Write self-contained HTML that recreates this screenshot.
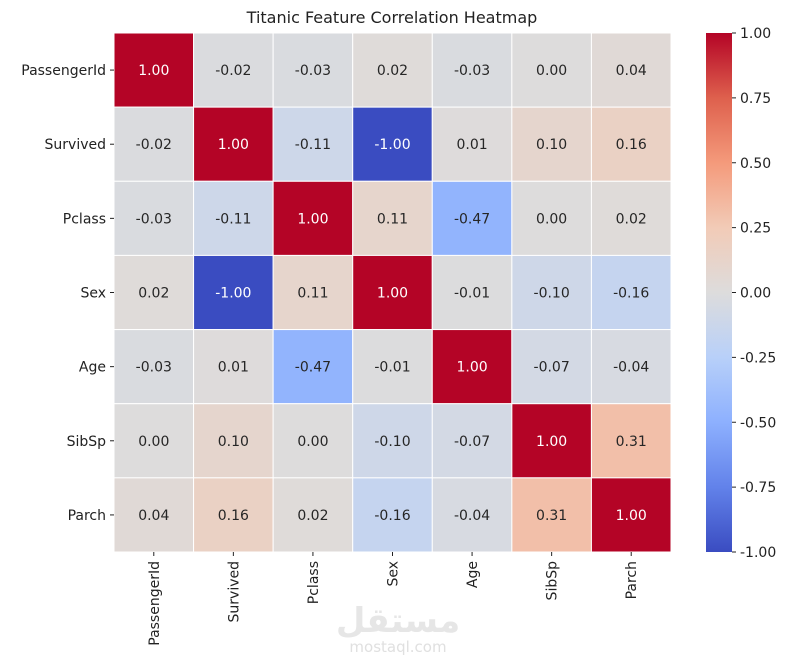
<!DOCTYPE html>
<html><head><meta charset="utf-8"><style>
body{margin:0;background:#fff;}
svg{font-family:"DejaVu Sans","Liberation Sans",sans-serif;}
</style></head><body>
<svg id="c" width="799" height="665"></svg>
<script>
const labels=["PassengerId","Survived","Pclass","Sex","Age","SibSp","Parch"];
const values=[
[1.00,-0.02,-0.03,0.02,-0.03,0.00,0.04],
[-0.02,1.00,-0.11,-1.00,0.01,0.10,0.16],
[-0.03,-0.11,1.00,0.11,-0.47,0.00,0.02],
[0.02,-1.00,0.11,1.00,-0.01,-0.10,-0.16],
[-0.03,0.01,-0.47,-0.01,1.00,-0.07,-0.04],
[0.00,0.10,0.00,-0.10,-0.07,1.00,0.31],
[0.04,0.16,0.02,-0.16,-0.04,0.31,1.00]];
const cbTicks=[1.00,0.75,0.50,0.25,0.00,-0.25,-0.50,-0.75,-1.00];
const NS="http://www.w3.org/2000/svg";
const svg=document.getElementById('c');
const L=114,T=33,R=671,B=552;
const n=labels.length,cw=(R-L)/n,ch=(B-T)/n;
const xS=i=>L+i*cw, yS=i=>T+i*ch;
const stops=[[0,[58,76,193]],[0.125,[98,130,234]],[0.25,[141,176,254]],[0.375,[184,208,249]],[0.5,[221,220,220]],[0.625,[242,203,183]],[0.75,[244,154,123]],[0.875,[222,96,77]],[1,[180,4,38]]];
function cmap(v){let t=(v+1)/2;t=Math.max(0,Math.min(1,t));
for(let i=1;i<stops.length;i++){if(t<=stops[i][0]){const a=stops[i-1],b=stops[i],f=(t-a[0])/(b[0]-a[0]);
return 'rgb('+a[1].map((c,k)=>Math.round(c+(b[1][k]-c)*f)).join(',')+')';}}return 'rgb(180,4,38)';}
function el(tag,attrs,txt){const e=document.createElementNS(NS,tag);for(const k in attrs)e.setAttribute(k,attrs[k]);if(txt!=null)e.textContent=txt;svg.appendChild(e);return e;}
const t=el('text',{x:392,y:23,'text-anchor':'middle','font-size':16,fill:'#222'},'Titanic Feature Correlation Heatmap');


for(let r=0;r<n;r++)for(let c=0;c<n;c++){
const v=values[r][c];
const rc=el('rect',{x:xS(c),y:yS(r),width:cw,height:ch,fill:cmap(v),stroke:'#fff','stroke-width':1});


const tx=el('text',{x:xS(c)+cw/2,y:yS(r)+ch/2+5,'text-anchor':'middle','font-size':14,fill:Math.abs(v)>0.6?'#fff':'#262626'},v.toFixed(2));


}
for(let i=0;i<n;i++){
el('line',{x1:L-4,x2:L,y1:yS(i)+ch/2,y2:yS(i)+ch/2,stroke:'#222'});
const yl=el('text',{x:L-8,y:yS(i)+ch/2+5,'text-anchor':'end','font-size':14,fill:'#222'},labels[i]);


const cx=xS(i)+cw/2;
el('line',{x1:cx,x2:cx,y1:B,y2:B+4,stroke:'#222'});
const xl=el('text',{x:0,y:0,'text-anchor':'end','font-size':14,fill:'#222',transform:'translate('+(cx+5)+','+(B+9)+') rotate(-90)'},labels[i]);


}
const cbX=706,cbW=26;
const defs=el('defs',{});
const g=document.createElementNS(NS,'linearGradient');g.setAttribute('id','gr');g.setAttribute('x1',0);g.setAttribute('y1',1);g.setAttribute('x2',0);g.setAttribute('y2',0);
stops.forEach(s=>{const st=document.createElementNS(NS,'stop');st.setAttribute('offset',s[0]);st.setAttribute('stop-color','rgb('+s[1].join(',')+')');g.appendChild(st);});
defs.appendChild(g);
const cb=el('rect',{x:cbX,y:T,width:cbW,height:B-T,fill:'url(#gr)'});


const cy=v=>T+(1-v)/2*(B-T);
cbTicks.forEach(v=>{
el('line',{x1:cbX+cbW,x2:cbX+cbW+4,y1:cy(v),y2:cy(v),stroke:'#222'});
const tl=el('text',{x:cbX+cbW+8,y:cy(v)+5,'font-size':14,fill:'#222'},v.toFixed(2));


});
const w1=el('text',{x:398,y:632,'text-anchor':'middle','font-size':34,'font-weight':'bold',fill:'#e6e6e6'},'مستقل');


const w2=el('text',{x:398,y:652,'text-anchor':'middle','font-size':15,fill:'#e0e0e0'},'mostaql.com');


</script>
</body></html>
